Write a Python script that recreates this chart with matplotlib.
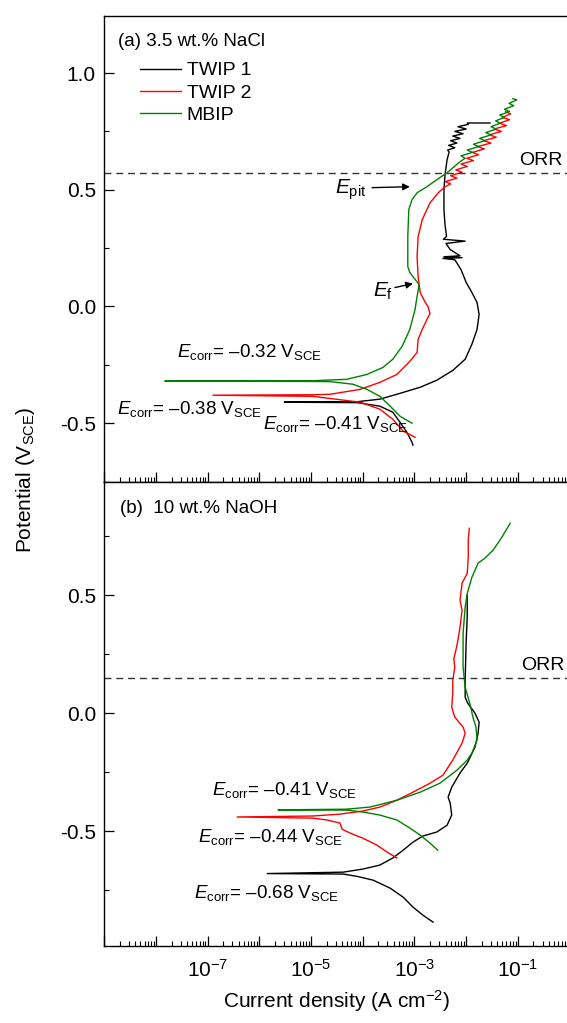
import numpy as np
import matplotlib
matplotlib.use("Agg")
import matplotlib.pyplot as plt
from matplotlib.ticker import FixedLocator, LogLocator, NullFormatter, FixedFormatter

plt.rcParams['font.family'] = ['Liberation Sans', 'DejaVu Sans']
plt.rcParams['mathtext.fontset'] = 'custom'
plt.rcParams['mathtext.rm'] = 'Liberation Sans'
plt.rcParams['mathtext.it'] = 'Liberation Sans:italic'
plt.rcParams['axes.unicode_minus'] = False

## Polarisation curves: log10(current density / A cm-2) and potential (V vs SCE) ##
# (a) 3.5 wt.% NaCl
twip1_a_logi = [-3.03, -3.05, -3.15, -3.28, -3.42, -3.67, -4.11, -5.52,
                -4.11, -3.67, -3.28, -2.89, -2.57, -2.26, -2.02, -1.89, -1.79, -1.75,
                -1.79, -1.89, -2.00, -2.10, -2.22, -2.45, -2.08, -2.43, -2.12, -2.31,
                -2.39, -2.02, -2.44, -2.38, -2.41, -2.43, -2.43, -2.41, -2.37, -2.33,
                -2.36, -2.22, -2.34, -2.18, -2.30, -2.12, -2.26, -2.06, -2.22, -2.00,
                -2.16, -1.96, -1.98, -1.54]
twip1_a_E = [-0.594, -0.581, -0.538, -0.496, -0.453, -0.427, -0.412, -0.410,
             -0.408, -0.397, -0.372, -0.346, -0.316, -0.274, -0.226, -0.162, -0.098, -0.034,
             0.017, 0.060, 0.103, 0.158, 0.200, 0.206, 0.209, 0.213, 0.217, 0.244,
             0.270, 0.280, 0.288, 0.300, 0.350, 0.415, 0.500, 0.564, 0.628, 0.662,
             0.670, 0.680, 0.690, 0.700, 0.710, 0.720, 0.730, 0.740, 0.750, 0.760,
             0.770, 0.780, 0.786, 0.786]

twip2_a_logi = [-2.99, -3.22, -3.42, -3.67, -4.05, -4.97, -6.90,
                -4.97, -4.63, -4.05, -3.67, -3.34, -3.09, -2.95, -2.93, -2.85, -2.76,
                -2.70, -2.74, -2.80, -2.89, -2.93, -2.95, -2.93, -2.85, -2.70, -2.54, -2.41,
                -2.30, -2.40, -2.18, -2.30, -2.08, -2.20, -1.98, -2.10, -1.86, -1.99,
                -1.76, -1.88, -1.65, -1.78, -1.52, -1.66, -1.42, -1.55, -1.32, -1.46,
                -1.22, -1.36, -1.16, -1.30, -1.14, -1.24]
twip2_a_E = [-0.560, -0.534, -0.483, -0.440, -0.410, -0.385, -0.380,
             -0.378, -0.376, -0.355, -0.325, -0.291, -0.235, -0.197, -0.141, -0.098, -0.056,
             -0.030, 0.000, 0.021, 0.060, 0.128, 0.214, 0.299, 0.372, 0.444, 0.487, 0.513,
             0.525, 0.535, 0.550, 0.560, 0.575, 0.585, 0.600, 0.610, 0.625, 0.635,
             0.650, 0.660, 0.675, 0.685, 0.700, 0.710, 0.725, 0.735, 0.750, 0.760,
             0.775, 0.785, 0.800, 0.810, 0.825, 0.835]

mbip_a_logi = [-3.05, -3.28, -3.47, -3.67, -3.92, -4.19, -4.63, -5.08, -7.83,
               -5.08, -4.31, -3.92, -3.61, -3.42, -3.24, -3.09, -2.99, -2.95, -2.91,
               -3.09, -3.13, -3.13, -3.11, -3.05, -2.95, -2.76, -2.57, -2.37, -2.12,
               -2.02, -2.10, -1.88, -1.98, -1.76, -1.86, -1.64, -1.74, -1.52, -1.62,
               -1.42, -1.52, -1.34, -1.43, -1.26, -1.35, -1.16, -1.26, -1.08, -1.17,
               -1.02, -1.10]
mbip_a_E = [-0.500, -0.470, -0.427, -0.385, -0.355, -0.333, -0.322, -0.321, -0.320,
            -0.319, -0.312, -0.291, -0.261, -0.226, -0.171, -0.098, -0.013, 0.043, 0.094,
            0.145, 0.171, 0.299, 0.415, 0.457, 0.487, 0.513, 0.543, 0.573, 0.620,
            0.635, 0.645, 0.660, 0.670, 0.685, 0.695, 0.710, 0.720, 0.735, 0.745,
            0.760, 0.770, 0.785, 0.795, 0.810, 0.820, 0.835, 0.845, 0.860, 0.870,
            0.885, 0.890]

# (b) 10 wt.% NaOH
twip1_b_logi = [-2.64, -2.84, -3.03, -3.22, -3.47, -3.80, -4.11, -4.38, -5.85,
                -4.38, -4.00, -3.67, -3.42, -3.22, -3.03, -2.84, -2.57, -2.37, -2.28,
                -2.31, -2.35, -2.28, -2.12, -1.98, -1.83, -1.77, -1.75, -1.83, -1.97,
                -2.02, -2.02, -2.00, -1.98, -1.98]
twip1_b_E = [-0.886, -0.856, -0.822, -0.780, -0.742, -0.708, -0.692, -0.682, -0.680,
             -0.674, -0.661, -0.644, -0.614, -0.581, -0.547, -0.521, -0.504, -0.475, -0.432,
             -0.381, -0.356, -0.314, -0.254, -0.212, -0.144, -0.085, -0.038, 0.000, 0.042,
             0.068, 0.140, 0.309, 0.407, 0.500]

twip2_b_logi = [-3.34, -3.53, -3.73, -4.00, -4.25, -4.40, -4.44, -4.69, -4.97, -6.43,
                -4.97, -4.44, -4.00, -3.67, -3.34, -3.03, -2.70, -2.45, -2.26, -2.08,
                -2.02, -2.06, -2.22, -2.28, -2.26, -2.26, -2.22, -2.24, -2.20, -2.16,
                -2.12, -2.08, -2.12, -2.08, -1.98, -1.96, -1.96, -1.94]
twip2_b_E = [-0.614, -0.589, -0.559, -0.530, -0.508, -0.492, -0.466, -0.453, -0.445, -0.440,
             -0.436, -0.428, -0.415, -0.398, -0.369, -0.335, -0.297, -0.263, -0.199, -0.127,
             -0.085, -0.059, -0.017, 0.025, 0.085, 0.140, 0.195, 0.230, 0.267, 0.309,
             0.364, 0.436, 0.479, 0.551, 0.593, 0.661, 0.733, 0.784]

mbip_b_logi = [-2.55, -2.70, -2.89, -3.09, -3.34, -3.67, -4.00, -4.31, -5.64,
               -4.31, -3.86, -3.34, -2.89, -2.51, -2.18, -1.98, -1.89, -1.79, -1.81,
               -1.87, -1.93, -2.02, -2.06, -2.06, -2.02, -1.98, -1.89, -1.77, -1.64,
               -1.48, -1.31, -1.15]
mbip_b_E = [-0.581, -0.551, -0.517, -0.487, -0.453, -0.432, -0.419, -0.411, -0.410,
            -0.407, -0.398, -0.369, -0.335, -0.297, -0.242, -0.199, -0.169, -0.114, -0.059,
            -0.017, 0.042, 0.110, 0.195, 0.339, 0.449, 0.508, 0.576, 0.636, 0.657,
            0.691, 0.746, 0.805]

labels = ['TWIP 1', 'TWIP 2', 'MBIP']
colors = ['black', '#ff0000', '#008000']
orr_E = [0.573, 0.148]
ecorr_a = ['\u20130.32', '\u20130.38', '\u20130.41']
ecorr_b = ['\u20130.41', '\u20130.44', '\u20130.68']
xtick_exps = [-7, -5, -3, -1]

curves_a = [(twip1_a_logi, twip1_a_E), (twip2_a_logi, twip2_a_E), (mbip_a_logi, mbip_a_E)]
curves_b = [(twip1_b_logi, twip1_b_E), (twip2_b_logi, twip2_b_E), (mbip_b_logi, mbip_b_E)]

fig = plt.figure(figsize=(5.67, 10.23), dpi=100)
ax1 = fig.add_axes([0.184, 0.5288, 0.816, 0.4555])
ax2 = fig.add_axes([0.184, 0.0753, 0.816, 0.4535])

def style_axis(ax, ylim, yticks):
    ax.set_xscale('log')
    ax.set_xlim(1e-9, 10 ** -0.05)
    ax.set_ylim(*ylim)
    ax.spines['right'].set_visible(False)
    for s in ax.spines.values():
        s.set_linewidth(1.0)
    ax.yaxis.set_major_locator(FixedLocator(yticks))
    ax.yaxis.set_minor_locator(FixedLocator(np.arange(-1.0, 1.3, 0.25)))
    ax.xaxis.set_major_locator(FixedLocator([10.0 ** e for e in range(-9, 1)]))
    ax.xaxis.set_minor_locator(LogLocator(base=10, subs=np.arange(2, 10), numticks=20))
    ax.xaxis.set_minor_formatter(NullFormatter())
    ax.tick_params(which='major', direction='in', length=7, width=0.9, labelsize=15,
                   top=False, right=False, pad=6)
    ax.tick_params(which='minor', direction='in', length=3.5, width=0.8, top=False, right=False)
    ax.yaxis.set_major_formatter(FixedFormatter(['%.1f' % v for v in yticks]))

style_axis(ax1, (-0.752, 1.244), [-0.5, 0.0, 0.5, 1.0])
style_axis(ax2, (-0.987, 0.98), [-0.5, 0.0, 0.5])
ax1.xaxis.set_major_formatter(NullFormatter())
ax2.xaxis.set_major_formatter(FixedFormatter(
    [r'$\mathregular{10^{%d}}$' % e if e in xtick_exps else '' for e in range(-9, 1)]))
ax2.tick_params(axis='x', which='major', pad=9)

for ax, curves in ((ax1, curves_a), (ax2, curves_b)):
    for (logi, E), lab, c in zip(curves, labels, colors):
        ax.plot(10.0 ** np.array(logi), E, color=c, lw=1.0, label=lab)

for ax, e in zip((ax1, ax2), orr_E):
    ax.axhline(e, color='#333333', lw=1.0, ls=(0, (5, 3.5)))

ax1.text(10 ** -0.55, 0.624, 'ORR', fontsize=14, ha='center', va='center')
ax2.text(10 ** -0.52, 0.203, 'ORR', fontsize=14, ha='center', va='center')

ax1.text(0.030, 0.936, '(a) 3.5 wt.% NaCl', transform=ax1.transAxes, fontsize=13.5, va='baseline')
ax2.text(0.034, 0.933, '(b)  10 wt.% NaOH', transform=ax2.transAxes, fontsize=13.5, va='baseline')

leg = ax1.legend(loc='upper left', bbox_to_anchor=(0.077, 0.902), frameon=False, fontsize=14,
                 borderpad=0, borderaxespad=0, handlelength=2.1, handletextpad=0.3,
                 labelspacing=0.25)

def ecorr_text(ax, x, y, val):
    ax.text(x, y, r'$E_{\mathregular{corr}}$= ' + val + r' V$_{\mathregular{SCE}}$',
            fontsize=13.5, va='baseline', ha='left')

ecorr_text(ax1, 10 ** -7.594, -0.218, ecorr_a[0])
ecorr_text(ax1, 10 ** -8.75, -0.462, ecorr_a[1])
ecorr_text(ax1, 10 ** -5.93, -0.526, ecorr_a[2])
ecorr_text(ax2, 10 ** -6.91, -0.347, ecorr_b[0])
ecorr_text(ax2, 10 ** -7.18, -0.547, ecorr_b[1])
ecorr_text(ax2, 10 ** -7.26, -0.784, ecorr_b[2])

arrow = dict(arrowstyle='-|>', color='black', lw=1.0, mutation_scale=10, shrinkA=0, shrinkB=0)
ax1.annotate('', xy=(10 ** -3.09, 0.513), xytext=(10 ** -3.82, 0.509), arrowprops=arrow)
ax1.text(10 ** -3.93, 0.50, r'$E_{\mathregular{pit}}$', fontsize=15, ha='right', va='center')
ax1.annotate('', xy=(10 ** -3.03, 0.098), xytext=(10 ** -3.38, 0.081), arrowprops=arrow)
ax1.text(10 ** -3.42, 0.064, r'$E_{\mathregular{f}}$', fontsize=15, ha='right', va='center')

fig.text(26 / 567, 1 - 480 / 1023, r'Potential (V$_{\mathregular{SCE}}$)', rotation=90,
         ha='center', va='center', fontsize=15)
fig.text(336 / 567, 1 - 1001 / 1023, r'Current density (A cm$^{\mathregular{-2}}$)',
         ha='center', va='center', fontsize=15)

fig.savefig('out.png', dpi=100)
